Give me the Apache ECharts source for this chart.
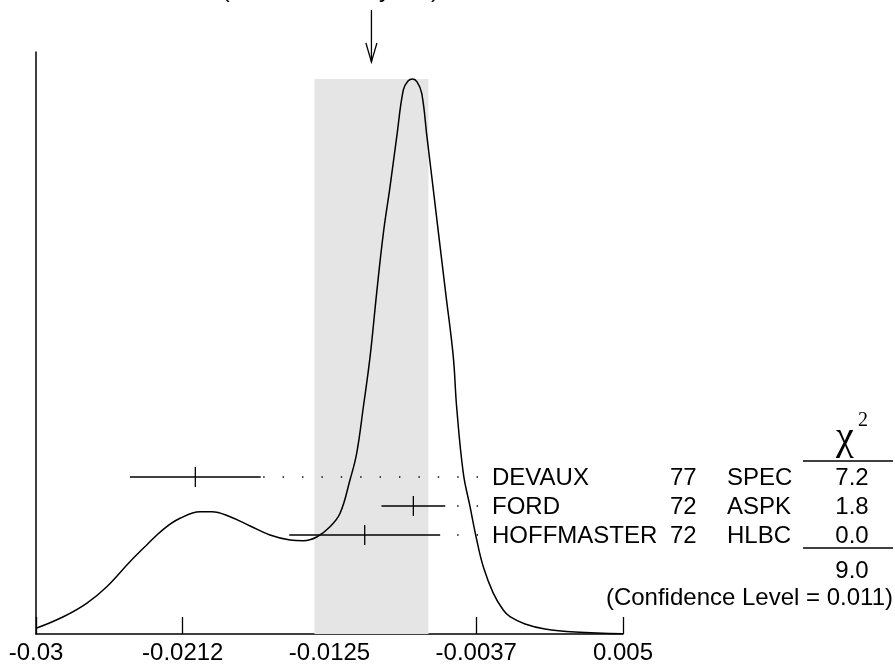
<!DOCTYPE html>
<html>
<head>
<meta charset="utf-8">
<script src="https://cdn.jsdelivr.net/npm/echarts@6/dist/echarts.min.js"></script>
<style>
  html, body { margin: 0; padding: 0; background: #fff; }
  #chart { width: 895px; height: 670px; }
</style>
</head>
<body>
<div id="chart"></div>
<script>
// axis ticks
const tickVals = [-0.03, -0.02125, -0.0125, -0.00375, 0.005];
const tickLabels = ['-0.03', '-0.0212', '-0.0125', '-0.0037', '0.005'];

// ideogram curve
const curveX = [
  -0.0300, -0.02837, -0.02698, -0.02578, -0.02440, -0.02340, -0.02241, -0.02141,
  -0.02022, -0.01952, -0.01843, -0.01723, -0.01605, -0.01485, -0.01406, -0.01326,
  -0.01247, -0.01187, -0.01128, -0.01088, -0.01048, -0.01008, -0.00969, -0.00929,
  -0.00889, -0.00849, -0.00810, -0.00782, -0.00754, -0.00728, -0.00700, -0.00669,
  -0.00645, -0.00600, -0.00557, -0.00512, -0.00492, -0.00452, -0.00412, -0.00372,
  -0.00333, -0.00273, -0.00214, -0.00174, -0.00084, 0.00035, 0.00214, 0.005
];
const curveY = [
  0.98, 2.97, 5.27, 8.13, 12.42, 15.29, 17.99, 19.88,
  21.01, 21.01, 20.15, 18.56, 17.01, 16.15, 16.03, 16.67,
  18.44, 20.74, 26.46, 31.05, 39.05, 47.65, 58.54, 68.85,
  76.86, 85.45, 93.47, 95.02, 95.36, 94.85, 92.90, 85.45,
  79.73, 68.85, 58.54, 47.65, 39.05, 27.61, 21.87, 16.15,
  11.56, 6.99, 4.12, 2.97, 1.72, 0.86, 0.34, 0.05
];

// measurements
const names = ['DEVAUX', 'FORD', 'HOFFMASTER'];
const years = ['77', '72', '72'];
const techs = ['SPEC', 'ASPK', 'HLBC'];
const values = [-0.0205, -0.0075, -0.0104];
const errors = [0.0039, 0.0019, 0.0045];
const chi2 = ['7.2', '1.8', '0.0'];
const chi2Total = '9.0';
const confLevel = '0.011';

// weighted average
const avg = -0.0100;
const avgErr = 0.0034;
const errScale = '2.1';

const FONT = '"Liberation Sans", Arial, Helvetica, sans-serif';
const SERIF = '"Liberation Serif", "Times New Roman", serif';
const ROW_Y0 = 477;
const ROW_STEP = 29;
const DOT_END_PX = 478;

const chart = echarts.init(document.getElementById('chart'));

const txt = (x, y, text, align, extra) => ({
  type: 'text',
  x: x,
  y: y,
  style: Object.assign({
    text: text,
    fill: '#000',
    font: '24px ' + FONT,
    textAlign: align || 'left',
    textVerticalAlign: 'middle'
  }, extra || {})
});

const graphics = [];
graphics.push(txt(47, -10, avg.toFixed(4) + '\u00b1' + avgErr.toFixed(4) + ' (Error scaled by ' + errScale + ')'));
names.forEach((n, i) => {
  const y = ROW_Y0 + i * ROW_STEP + 1;
  graphics.push(txt(492, y, n));
  graphics.push(txt(670, y, years[i]));
  graphics.push(txt(727, y, techs[i]));
  graphics.push(txt(852, y, chi2[i], 'center'));
});
graphics.push(txt(852, 571, chi2Total, 'center'));
graphics.push(txt(893, 598, '(Confidence Level = ' + confLevel + ')', 'right'));
graphics.push(txt(845, 438, '\u03c7', 'center', { font: '40px ' + SERIF }));
graphics.push(txt(863, 421, '2', 'center', { font: '20px ' + SERIF }));
graphics.push({ type: 'line', shape: { x1: 803, y1: 461, x2: 893, y2: 461 }, style: { stroke: '#000', lineWidth: 1.3 } });
graphics.push({ type: 'line', shape: { x1: 803, y1: 548, x2: 893, y2: 548 }, style: { stroke: '#000', lineWidth: 1.3 } });

const peak = Math.max(...curveY);

const option = {
  animation: false,
  backgroundColor: '#fff',
  grid: {
    left: 36,
    right: 272,
    top: 52,
    bottom: 36
  },
  xAxis: {
    type: 'value',
    min: -0.03,
    max: 0.005,
    splitLine: { show: false },
    axisLine: {
      show: true,
      onZero: false,
      lineStyle: { color: '#000', width: 1.5 }
    },
    axisTick: {
      show: true,
      inside: true,
      length: 17,
      customValues: tickVals,
      lineStyle: { color: '#000', width: 1.3 }
    },
    axisLabel: {
      show: true,
      customValues: tickVals,
      margin: 7,
      color: '#000',
      fontSize: 24,
      fontFamily: FONT,
      formatter: (v) => {
        const k = tickVals.findIndex(t => Math.abs(t - v) < 1e-9);
        return k >= 0 ? tickLabels[k] : '';
      }
    }
  },
  yAxis: {
    type: 'value',
    min: 0,
    max: 100,
    splitLine: { show: false },
    axisTick: { show: false },
    axisLabel: { show: false },
    axisLine: {
      show: true,
      onZero: false,
      lineStyle: { color: '#000', width: 1.5 }
    }
  },
  series: [
    {
      type: 'line',
      data: curveX.map((x, i) => [x, curveY[i]]),
      smooth: 0.4,
      symbol: 'none',
      lineStyle: { color: '#000', width: 1.5 },
      z: 3,
      markArea: {
        silent: true,
        itemStyle: { color: '#e5e5e5' },
        data: [[
          { xAxis: avg - avgErr, yAxis: 0 },
          { xAxis: avg + avgErr, yAxis: peak }
        ]]
      }
    },
    {
      type: 'custom',
      clip: false,
      z: 4,
      data: values.map((v, i) => [v, errors[i], i]),
      renderItem: (params, api) => {
        const v = api.value(0);
        const e = api.value(1);
        const i = api.value(2);
        const y = ROW_Y0 + i * ROW_STEP;
        const x0 = api.coord([v - e, 0])[0];
        const x1 = api.coord([v + e, 0])[0];
        const xc = api.coord([v, 0])[0];
        const stroke = { stroke: '#000', lineWidth: 1.3 };
        return {
          type: 'group',
          children: [
            { type: 'line', shape: { x1: x0, y1: y, x2: x1, y2: y }, style: stroke },
            { type: 'line', shape: { x1: xc, y1: y - 10, x2: xc, y2: y + 10 }, style: stroke },
            {
              type: 'line',
              shape: { x1: DOT_END_PX, y1: y, x2: x1 + 2, y2: y },
              style: { stroke: '#000', lineWidth: 1.4, lineDash: [1.4, 18] }
            }
          ]
        };
      }
    },
    {
      type: 'custom',
      clip: false,
      z: 4,
      data: [[avg]],
      renderItem: (params, api) => {
        const x = api.coord([api.value(0), 0])[0];
        const stroke = { stroke: '#000', lineWidth: 1.3, fill: null };
        return {
          type: 'group',
          children: [
            { type: 'line', shape: { x1: x, y1: 10, x2: x, y2: 62 }, style: stroke },
            { type: 'polyline', shape: { points: [[x - 5.5, 43], [x, 62], [x + 5.5, 43]] }, style: stroke }
          ]
        };
      }
    }
  ],
  graphic: graphics
};

chart.setOption(option);
</script>
</body>
</html>
